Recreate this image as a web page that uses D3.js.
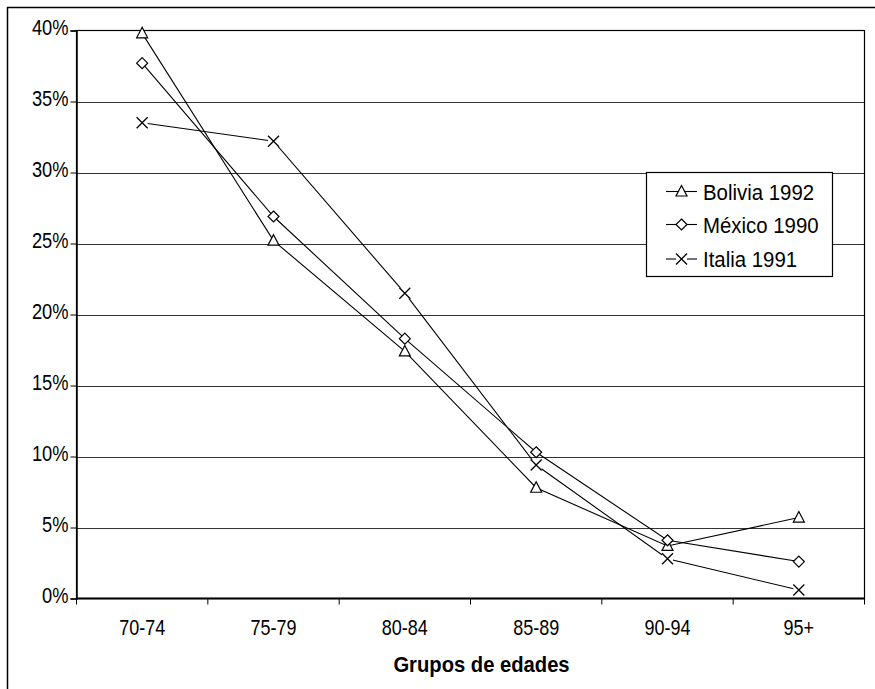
<!DOCTYPE html>
<html>
<head>
<meta charset="utf-8">
<script src="https://cdn.jsdelivr.net/npm/d3@7"></script>
<style>
  html, body { margin: 0; padding: 0; background: #fff; }
  svg { display: block; font-family: "Liberation Sans", Arial, sans-serif; }
</style>
</head>
<body>
<svg id="chart" width="875" height="689"></svg>
<script>
// Age groups and share of population aged 70+ in each group
const categories = ["70-74", "75-79", "80-84", "85-89", "90-94", "95+"];
const bolivia1992 = [39.8, 25.2, 17.4, 7.8, 3.7, 5.7];
const mexico1990  = [37.7, 26.9, 18.3, 10.3, 4.1, 2.6];
const italia1991  = [33.5, 32.2, 21.5, 9.4, 2.8, 0.6];
const yTicks = [0, 5, 10, 15, 20, 25, 30, 35, 40];

const series = [
  { name: "Bolivia 1992", values: bolivia1992, symbol: "triangle" },
  { name: "México 1990", values: mexico1990, symbol: "diamond" },
  { name: "Italia 1991", values: italia1991, symbol: "cross" }
];

const svg = d3.select("#chart");
const plot = { left: 76.5, top: 30.5, right: 864.5, bottom: 598.5 };
const textStretch = 1.2; // glyphs are drawn slightly taller than wide

// outer chart frame (runs off the right and bottom edges)
svg.append("rect")
  .attr("x", 7.5).attr("y", 7.5)
  .attr("width", 900).attr("height", 700)
  .attr("fill", "#fff").attr("stroke", "#000").attr("stroke-width", 1.5);

const x = d3.scaleBand().domain(categories).range([plot.left, plot.right]);
const y = d3.scaleLinear().domain([0, 40]).range([plot.bottom, plot.top]);

// horizontal gridlines
svg.append("g").selectAll("line")
  .data(yTicks.filter(t => t > 0 && t < 40))
  .join("line")
  .attr("x1", plot.left).attr("x2", plot.right)
  .attr("y1", d => Math.round(y(d)) + 0.5).attr("y2", d => Math.round(y(d)) + 0.5)
  .attr("stroke", "#333").attr("stroke-width", 1);

// plot area border
svg.append("rect")
  .attr("x", plot.left).attr("y", plot.top)
  .attr("width", plot.right - plot.left).attr("height", plot.bottom - plot.top)
  .attr("fill", "none").attr("stroke", "#000").attr("stroke-width", 1.2);

// y axis
const yAxis = d3.axisLeft(y).tickValues(yTicks).tickSize(6).tickPadding(2)
  .tickFormat(d => d + "%");
const gy = svg.append("g").attr("transform", `translate(${plot.left},0)`).call(yAxis);
gy.select(".domain").attr("stroke", "#000").attr("stroke-width", 1.5);
gy.selectAll(".tick line").attr("stroke", "#000");
gy.selectAll(".tick text")
  .attr("font-size", 18.3).attr("fill", "#000")
  .attr("font-family", "Liberation Sans, Arial, sans-serif")
  .attr("dy", "0.26em")
  .attr("transform", `translate(0,-1.5) scale(1,${textStretch})`);

// x axis with ticks at category boundaries
const gx = svg.append("g").attr("transform", `translate(0,${plot.bottom})`);
gx.append("line").attr("x1", plot.left).attr("x2", plot.right)
  .attr("stroke", "#000").attr("stroke-width", 2);
const boundaries = categories.map(c => x(c)).concat([plot.right]);
gx.selectAll("line.tk").data(boundaries).join("line").attr("class", "tk")
  .attr("x1", d => d).attr("x2", d => d).attr("y1", 0).attr("y2", 6)
  .attr("stroke", "#000");
gx.selectAll("text").data(categories).join("text")
  .attr("transform", d => `translate(${x(d) + x.bandwidth() / 2},36.5) scale(1,${textStretch})`)
  .attr("text-anchor", "middle").attr("font-size", 18).attr("fill", "#000")
  .text(d => d);

// axis title
svg.append("text")
  .attr("transform", `translate(${(plot.left + plot.right) / 2 + 11},672) scale(1,1.13)`)
  .attr("text-anchor", "middle").attr("font-size", 20.2).attr("font-weight", "bold")
  .text("Grupos de edades");

// marker drawing
function drawMarker(g, type, cx, cy) {
  if (type === "triangle") {
    g.append("path")
      .attr("d", `M${cx},${cy - 6}L${cx + 5.5},${cy + 4.5}L${cx - 5.5},${cy + 4.5}Z`)
      .attr("fill", "#fff").attr("stroke", "#000").attr("stroke-width", 1.2);
  } else if (type === "diamond") {
    g.append("path")
      .attr("d", `M${cx},${cy - 5.5}L${cx + 5.5},${cy}L${cx},${cy + 5.5}L${cx - 5.5},${cy}Z`)
      .attr("fill", "#fff").attr("stroke", "#000").attr("stroke-width", 1.2);
  } else {
    g.append("rect").attr("x", cx - 5.5).attr("y", cy - 5.5)
      .attr("width", 11).attr("height", 11).attr("fill", "#fff");
    g.append("path")
      .attr("d", `M${cx - 5.5},${cy - 5.5}L${cx + 5.5},${cy + 5.5}M${cx + 5.5},${cy - 5.5}L${cx - 5.5},${cy + 5.5}`)
      .attr("stroke", "#000").attr("stroke-width", 1.3).attr("fill", "none");
  }
}

const line = d3.line()
  .x((d, i) => x(categories[i]) + x.bandwidth() / 2)
  .y(d => y(d));

const seriesG = svg.append("g");
series.forEach(s => {
  seriesG.append("path").datum(s.values)
    .attr("d", line).attr("fill", "none").attr("stroke", "#000").attr("stroke-width", 1.1);
});
series.forEach(s => {
  const g = seriesG.append("g");
  s.values.forEach((v, i) => {
    drawMarker(g, s.symbol, x(categories[i]) + x.bandwidth() / 2, y(v));
  });
});

// legend
const legend = svg.append("g");
legend.append("rect")
  .attr("x", 646.5).attr("y", 172.5).attr("width", 186).attr("height", 104)
  .attr("fill", "#fff").attr("stroke", "#000").attr("stroke-width", 1.2);
const rowY = [191.5, 224.5, 259];
series.forEach((s, i) => {
  const g = legend.append("g");
  g.append("line").attr("x1", 666).attr("x2", 697)
    .attr("y1", rowY[i]).attr("y2", rowY[i]).attr("stroke", "#000").attr("stroke-width", 1.1);
  drawMarker(g, s.symbol, 681.5, rowY[i]);
  g.append("text")
    .attr("transform", `translate(703,${rowY[i] + 8}) scale(1,1.05)`)
    .attr("font-size", 20.4).attr("fill", "#000").text(s.name);
});
</script>
</body>
</html>
